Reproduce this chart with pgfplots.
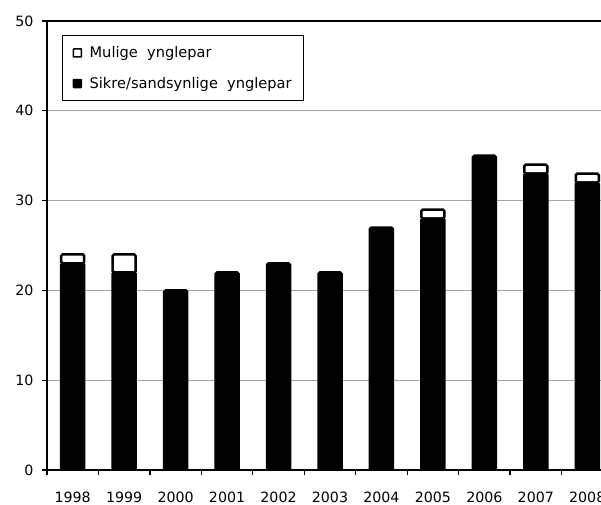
\documentclass[border=0pt]{standalone}
\usepackage{fontspec}
\setmainfont{DejaVu Sans}
\usepackage{pgfplots}
\pgfplotsset{compat=1.18}
\begin{document}
\begin{tikzpicture}[x=1pt,y=1pt]
\clip (0,0) rectangle (601,504);
\begin{axis}[
  at={(47pt,34pt)}, anchor=south west,
  scale only axis, width=566pt, height=449pt,
  ybar stacked, bar width=23pt,
  xmin=-0.5, xmax=10.5, ymin=0, ymax=50,
  ytick={0,10,...,50},
  xtick={-0.5,0.5,...,10.5},
  xticklabels={1998,1999,2000,2001,2002,2003,2004,2005,2006,2007,2008},
  xticklabel style={xshift=25.7pt, yshift=-13pt},
  yticklabel style={xshift=-5pt},
  tick align=outside, tick pos=left,
  major tick length=5pt,
  tick style={black, line width=1.3pt},
  ymajorgrids, grid style={gray!70, line width=1.3pt},
  axis line style={black, line width=1.8pt},
  ticklabel style={font=\fontsize{14.2}{16}\selectfont},
  /pgf/number format/assume math mode=true,
  legend style={at={(15pt,435pt)}, anchor=north west, draw=black, line width=1.3pt,
    font=\fontsize{14.6}{16}\selectfont, row sep=14pt, inner xsep=10pt, inner ysep=9pt,
    cells={anchor=west}},
  legend cell align=left,
  reverse legend,
  legend image code/.code={\draw[#1, line width=1.5pt, rounded corners=0.5pt] (0pt,-4pt) rectangle (8pt,4pt);\path (13pt,0pt);},
]
\addplot[fill=black, draw=black, line width=2.5pt, rounded corners=1.5pt] coordinates {
  (0,23) (1,22) (2,20) (3,22) (4,23) (5,22) (6,27) (7,28) (8,35) (9,33) (10,32)};
\addlegendentry{Sikre/sandsynlige\ \ ynglepar}
\addplot[fill=white, draw=black, line width=2.5pt, rounded corners=1.5pt] coordinates {
  (0,1) (1,2) (2,0) (3,0) (4,0) (5,0) (6,0) (7,1) (8,0) (9,1) (10,1)};
\addlegendentry{Mulige\ \ ynglepar}
\end{axis}
\end{tikzpicture}
\end{document}
